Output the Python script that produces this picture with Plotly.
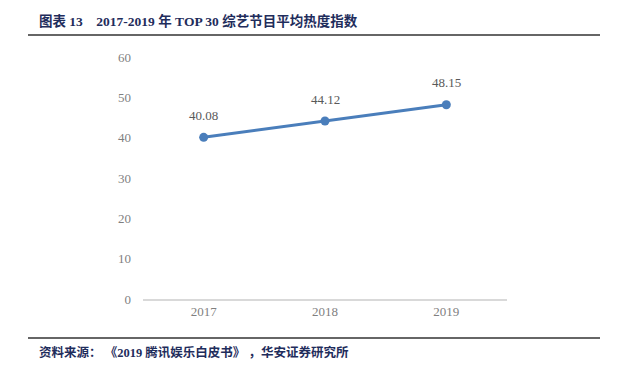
import plotly.graph_objects as go

years = ["2017", "2018", "2019"]
values = [40.08, 44.12, 48.15]
y_ticks = [0, 10, 20, 30, 40, 50, 60]

L, R, T, B = 143, 110, 57, 71
W, H = 617, 370
pw, ph = W - L - R, H - T - B

def px(x):
    return (x - L) / pw

def py(y):
    return (H - B - y) / ph

fig = go.Figure()
fig.add_trace(go.Scatter(
    x=years, y=values, mode="lines+markers",
    line=dict(color="#4a7ebb", width=3),
    marker=dict(color="#4a7ebb", size=9),
    cliponaxis=False,
    showlegend=False,
    hoverinfo="skip",
))

navy = "#1f2d5c"
serif = "Liberation Serif, Noto Sans CJK SC"
annotations = [
    dict(x=i, y=v, xref="x", yref="y", text=f"{v:.2f}", showarrow=False,
         yshift=22, font=dict(family=serif, size=13, color="#595959"))
    for i, v in enumerate(values)
]
annotations += [
    dict(xref="paper", yref="paper", x=px(37), y=py(21), xanchor="left", yanchor="middle",
         showarrow=False,
         text="<b>图表 13    2017-2019 年 TOP 30 综艺节目平均热度指数</b>",
         font=dict(size=13.5, color=navy, family=serif)),
    dict(xref="paper", yref="paper", x=px(37), y=py(352), xanchor="left", yanchor="middle",
         showarrow=False,
         text="<b>资料来源： 《2019 腾讯娱乐白皮书》 ，华安证券研究所</b>",
         font=dict(size=12.5, color=navy, family=serif)),
]

fig.update_layout(
    width=W, height=H,
    margin=dict(l=L, r=R, t=T, b=B),
    paper_bgcolor="white", plot_bgcolor="white",
    font=dict(family=serif),
    xaxis=dict(type="category", range=[-0.5, 2.5], showgrid=False,
               showline=True, linecolor="#d9d9d9", linewidth=1.5,
               ticks="", tickfont=dict(size=13, color="#7f7f7f")),
    yaxis=dict(range=[0, 60], tickvals=y_ticks, showgrid=False, zeroline=False,
               showline=False, ticks="", ticklabelstandoff=11,
               tickfont=dict(size=13, color="#7f7f7f")),
    shapes=[
        dict(type="line", xref="paper", yref="paper", x0=px(28), x1=px(600),
             y0=py(35), y1=py(35), line=dict(color="#333333", width=1.5)),
        dict(type="line", xref="paper", yref="paper", x0=px(28), x1=px(600),
             y0=py(338), y1=py(338), line=dict(color="#333333", width=1.5)),
    ],
    annotations=annotations,
)

fig.write_html("out.html", config={"displayModeBar": False},
               post_script="document.body.style.margin='0';document.body.style.overflow='hidden';")
